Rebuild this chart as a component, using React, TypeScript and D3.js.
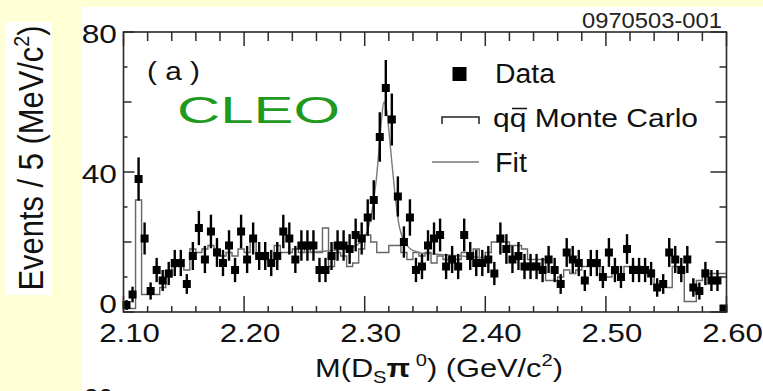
import React from 'react';
import * as d3 from 'd3';

const BIN_START = 2.10;
const BIN_WIDTH = 0.005;

const dataCounts = [
  2, 5, 38, 21, 6, 12, 9, 11, 14, 14,
  8, 16, 24, 15, 23, 17, 14, 19, 12, 23,
  15, 21, 16, 16, 14, 16, 23, 21, 15, 19,
  19, 19, 12, 12, 16, 19, 19, 18, 22, 21,
  27, 32, 50, 64, 55, 33, 20, 27, 12, 13,
  19, 21, 22, 13, 15, 13, 22, 16, 14, 14,
  15, 11, 21, 18, 15, 16, 13, 13, 13, 12,
  15, 12, 8, 17, 15, 14, 9, 14, 14, 10,
  17, 12, 10, 18, 12, 12, 12, 11, 7, 8,
  17, 15, 12, 15, 7, 6, 11, 9, 9, 1,
];

const mcCounts = [
  1, 1, 32, 5, 5, 5, 7, 10, 13, 13,
  12, 18, 17, 18, 19, 18, 16, 17, 16, 18,
  17, 21, 16, 15, 14, 19, 17, 17, 18, 17,
  18, 17, 17, 24, 13, 17, 16, 13, 14, 18,
  22, 20, 17, 17, 19, 19, 17, 15, 17, 16,
  17, 14, 16, 15, 16, 15, 17, 16, 18, 15,
  17, 20, 20, 20, 19, 19, 18, 15, 15, 15,
  9, 9, 10, 12, 11, 12, 13, 13, 13, 10,
  10, 11, 10, 13, 13, 13, 12, 12, 7, 8,
  7, 13, 13, 3, 3, 9, 12, 11, 11, 11,
];

const fitMass = [2.25, 2.27, 2.29, 2.297, 2.301, 2.305, 2.309, 2.312, 2.314, 2.316, 2.318, 2.32, 2.323, 2.326, 2.329, 2.333, 2.338, 2.345, 2.36, 2.38, 2.4];
const fitValue = [17, 17.5, 18.5, 20, 22, 27, 36, 47, 55, 60, 58, 52, 41, 31, 24, 20, 18, 17, 16.5, 16, 15.5];

const xTickValues = [2.1, 2.2, 2.3, 2.4, 2.5, 2.6];
const xTickLabels = ['2.10', '2.20', '2.30', '2.40', '2.50', '2.60'];
const yTickValues = [0, 40, 80];
const yTickLabels = ['0', '40', '80'];

const FONT = "'Liberation Sans', Arial, Helvetica, sans-serif";

export default function App() {
  const W = 763, H = 391;
  const x = d3.scaleLinear().domain([2.10, 2.60]).range([123.5, 726.5]);
  const y = d3.scaleLinear().domain([0, 80]).range([312, 32]);

  const mcPts: [number, number][] = mcCounts.map((v, i) => [BIN_START + i * BIN_WIDTH, v]);
  mcPts.push([BIN_START + mcCounts.length * BIN_WIDTH, mcCounts[mcCounts.length - 1]]);
  const mcLine = d3.line<[number, number]>().x(d => x(d[0])).y(d => y(d[1])).curve(d3.curveStepAfter);

  const fitPts: [number, number][] = fitMass.map((m, i) => [m, fitValue[i]]);
  const fitLine = d3.line<[number, number]>().x(d => x(d[0])).y(d => y(d[1])).curve(d3.curveCatmullRom);

  const minorX = d3.range(0, 26).map(i => 2.10 + i * 0.02);
  const yTicksAll = d3.range(0, 9).map(i => i * 10);

  const axisColor = '#2a2a2a';

  return (
    <svg width={W} height={H} style={{ position: 'absolute', left: 0, top: 0 }} fontFamily={FONT}>
      <rect x={0} y={0} width={W} height={H} fill="#FFFFD6" />
      <rect x={82} y={7} width={W - 82} height={H - 7} fill="#ffffff" />
      <rect x={5} y={22} width={47} height={273} fill="#ffffff" />

      {/* Y axis title */}
      <text transform="translate(43,158) scale(1.15,1) rotate(-90)" textAnchor="middle" fontSize={30} fill="#111"
        textLength={265} lengthAdjust="spacingAndGlyphs">
        Events / 5 (MeV/c<tspan fontSize={19} dy={-12}>2</tspan><tspan dy={12}>)</tspan>
      </text>

      {/* id label */}
      <text x={582} y={28} fontSize={22} fill="#222" textLength={140} lengthAdjust="spacingAndGlyphs">0970503-001</text>

      {/* MC histogram */}
      <path d={mcLine(mcPts) || ''} fill="none" stroke="#666" strokeWidth={1.4} />
      {/* Fit */}
      <path d={fitLine(fitPts) || ''} fill="none" stroke="#7a7a7a" strokeWidth={1.4} />

      {/* Data */}
      {dataCounts.map((v, i) => {
        const m = BIN_START + (i + 0.5) * BIN_WIDTH;
        const e = Math.sqrt(v);
        const cx = x(m);
        return (
          <g key={i}>
            <line x1={cx} x2={cx} y1={y(Math.max(0, v - e))} y2={y(v + e)} stroke="#000" strokeWidth={2.4} />
            <rect x={cx - 4} y={y(v) - 4} width={8} height={8} fill="#000" />
          </g>
        );
      })}

      {/* Frame */}
      <rect x={123.5} y={32} width={603} height={280} fill="none" stroke={axisColor} strokeWidth={1.6} />

      {/* X ticks */}
      {minorX.map((t, i) => {
        const major = i % 5 === 0;
        const px = x(t);
        return (
          <g key={i}>
            <line x1={px} x2={px} y1={312} y2={312 - (major ? 16 : 6)} stroke={axisColor} strokeWidth={1.5} />
            <line x1={px} x2={px} y1={32} y2={32 + (major ? 14 : 9)} stroke={axisColor} strokeWidth={1.5} />
          </g>
        );
      })}
      {/* Y ticks */}
      {yTicksAll.map((t, i) => {
        const py = y(t);
        const lenL = t % 40 === 0 ? 11 : t % 20 === 0 ? 8 : 4;
        const lenR = t % 40 === 0 ? 16 : t % 20 === 0 ? 11 : 7;
        return (
          <g key={i}>
            <line x1={123.5} x2={123.5 + lenL} y1={py} y2={py} stroke={axisColor} strokeWidth={1.5} />
            <line x1={726.5} x2={726.5 - lenR} y1={py} y2={py} stroke={axisColor} strokeWidth={1.5} />
          </g>
        );
      })}

      {/* X tick labels */}
      {xTickValues.map((t, i) => (
        <text key={i} transform={`translate(${x(t) + 6},342) scale(1.2,1)`} textAnchor="middle" fontSize={26} fill="#111">
          {xTickLabels[i]}
        </text>
      ))}
      {/* Y tick labels */}
      {yTickValues.map((t, i) => (
        <text key={i} transform={`translate(117,${t === 0 ? 313 : y(t) + 11}) scale(1.22,1)`} textAnchor="end" fontSize={26} fill="#111">
          {yTickLabels[i]}
        </text>
      ))}

      {/* X axis title */}
      <text x={315} y={377} fontSize={26} fill="#111" textLength={248} lengthAdjust="spacingAndGlyphs">
        M(D<tspan fontSize={17} dy={6}>S</tspan><tspan dy={-6} fontWeight="bold">π</tspan><tspan fontSize={17} dy={-11}> 0</tspan><tspan dy={11}>) (GeV/c</tspan><tspan fontSize={17} dy={-11}>2</tspan><tspan dy={11}>)</tspan>
      </text>

      {/* (a) */}
      <text x={147} y={80} fontSize={26} fill="#111" textLength={53} lengthAdjust="spacingAndGlyphs">( a )</text>

      {/* CLEO */}
      <text x={177} y={123} fontSize={37} fill="#1f9a1f" textLength={163} lengthAdjust="spacingAndGlyphs">CLEO</text>

      {/* Legend */}
      <rect x={452.5} y={67} width={14} height={14} fill="#000" />
      <text x={495} y={82.5} fontSize={27} fill="#111" textLength={60} lengthAdjust="spacingAndGlyphs">Data</text>
      <path d="M442,124 V117 H479 V124" fill="none" stroke="#222" strokeWidth={1.5} />
      <text x={493} y={127} fontSize={26} fill="#111" textLength={205} lengthAdjust="spacingAndGlyphs">qq Monte Carlo</text>
      <line x1={512} x2={527} y1={108.5} y2={108.5} stroke="#111" strokeWidth={1.5} />
      <line x1={432} x2={479} y1={162} y2={162} stroke="#777" strokeWidth={1.4} />
      <text x={495} y={172} fontSize={27} fill="#111" textLength={32} lengthAdjust="spacingAndGlyphs">Fit</text>

      {/* partial label of next panel (cut off by the image edge, as in the reference) */}
      <text x={84} y={407} fontSize={26} fill="#111">80</text>
    </svg>
  );
}
